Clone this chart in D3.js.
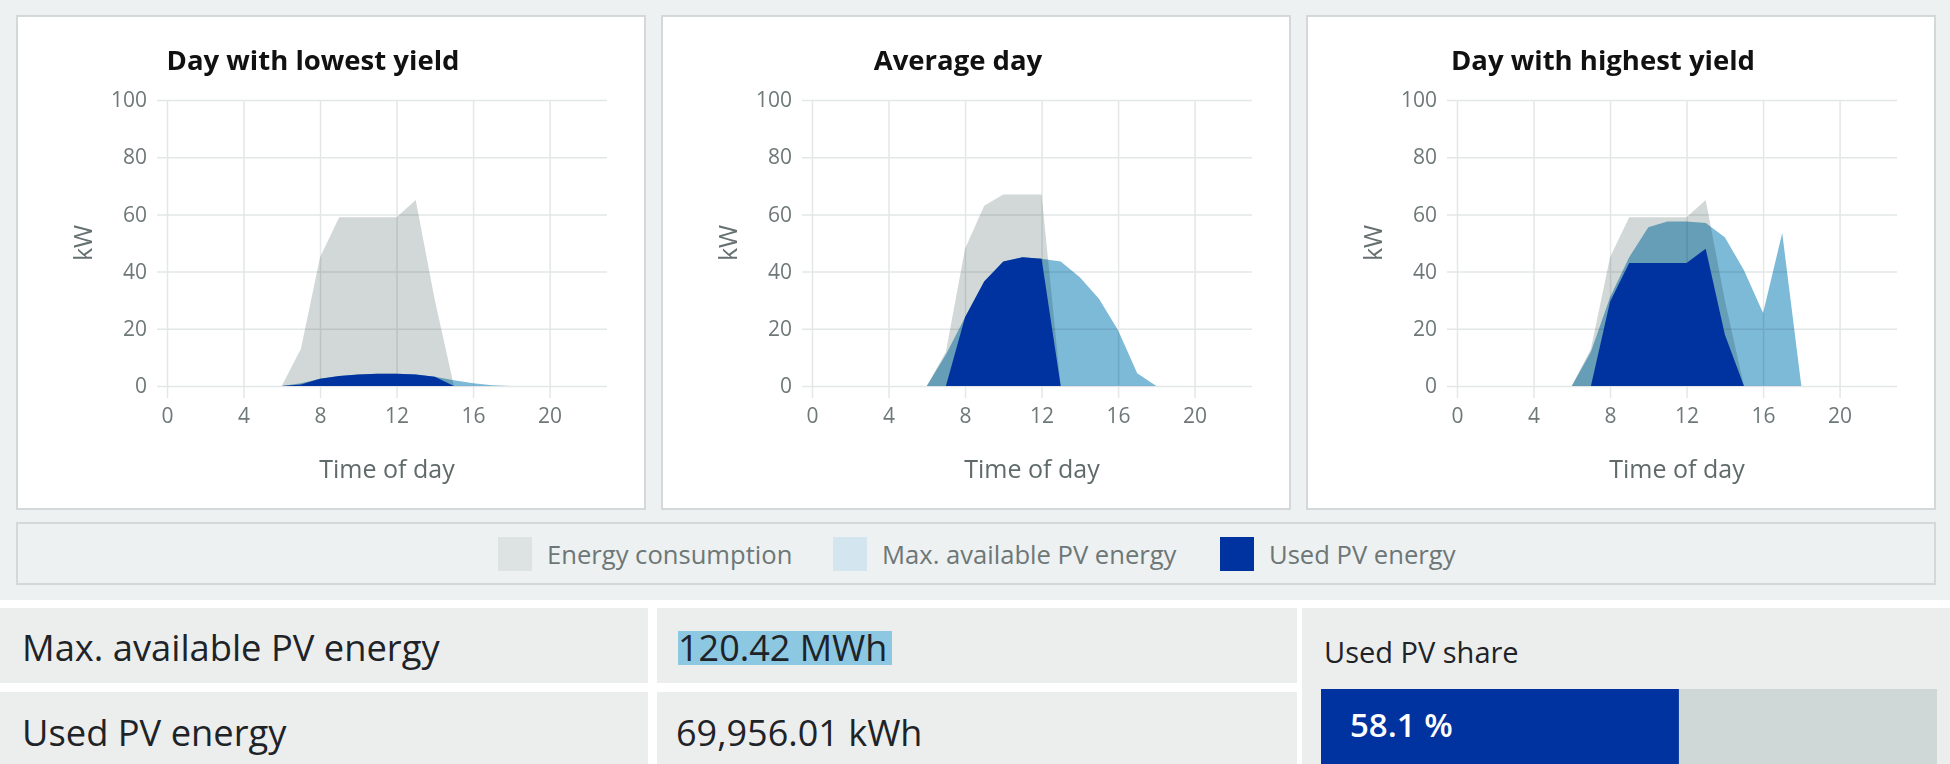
<!DOCTYPE html>
<html><head><meta charset="utf-8">
<script src="https://cdn.jsdelivr.net/npm/d3@7/dist/d3.min.js"></script>
<style>
html,body{margin:0;padding:0;background:#eef1f1;}
svg{display:block;font-family:"Open Sans",sans-serif;}
</style></head><body>
<svg id="chart" width="1950" height="764"></svg>
<script>
// ---------- data ----------
const hours = [0,1,2,3,4,5,6,7,8,9,10,11,12,13,14,15,16,17,18,19,20,21,22,23];
const panelTitles = ["Day with lowest yield", "Average day", "Day with highest yield"];
const xTicks = [0,4,8,12,16,20];
const yTicks = [0,20,40,60,80,100];

const lowConsumption  = [0,0,0,0,0,0,0,13,45,59,59,59,59,65,30,0,0,0,0,0,0,0,0,0];
const lowPV           = [0,0,0,0,0,0,0,1,2.5,3.5,4,4.3,4.3,4,3.2,2,1,0.3,0,0,0,0,0,0];
const lowUsed         = [0,0,0,0,0,0,0,0.5,2.5,3.5,4,4.3,4.3,4,3.2,0,0,0,0,0,0,0,0,0];

const avgConsumption  = [0,0,0,0,0,0,0,12,48,63,67,67,67,0,0,0,0,0,0,0,0,0,0,0];
const avgPV           = [0,0,0,0,0,0,0,11,24,36.5,43.5,45,44.5,43.5,38,30.5,19.5,4.5,0,0,0,0,0,0];
const avgUsed         = [0,0,0,0,0,0,0,0,24,36.5,43.5,45,44.5,0,0,0,0,0,0,0,0,0,0,0];

const highConsumption = [0,0,0,0,0,0,0,13,45,59,59,59,59,65,30,0,0,0,0,0,0,0,0,0];
const highPV          = [0,0,0,0,0,0,0,12,31,45,55.5,57.5,57.5,57,52,40.5,25.5,53.5,0,0,0,0,0,0];
const highUsed        = [0,0,0,0,0,0,0,0,29.5,43,43,43,43,48,18,0,0,0,0,0,0,0,0,0];

const legendLabels = ["Energy consumption", "Max. available PV energy", "Used PV energy"];
const summaryLabels = ["Max. available PV energy", "Used PV energy"];
const summaryValues = ["120.42 MWh", "69,956.01 kWh"];
const shareLabel = "Used PV share";
const usedShare = 58.1;

// ---------- styles ----------
const colConsumption = "#d2d8d8";
const colPV = "#7cbad8";
const colUsed = "#0033a0";
const legendColors = ["#dde2e2", "#d3e6ef", "#0033a0"];

const svg = d3.select("#chart");
svg.append("rect").attr("width",1950).attr("height",764).attr("fill","#eef1f1");

const panels = [
  {left:17,  title:panelTitles[0], cons:lowConsumption,  pv:lowPV,  used:lowUsed},
  {left:662, title:panelTitles[1], cons:avgConsumption,  pv:avgPV,  used:avgUsed},
  {left:1307,title:panelTitles[2], cons:highConsumption, pv:highPV, used:highUsed}
];

panels.forEach(p => {
  const px = p.left;
  const g = svg.append("g").style("isolation","isolate");
  g.append("rect").attr("x",px).attr("y",16).attr("width",628).attr("height",493)
    .attr("fill","#fff").attr("stroke","#d3d8d8").attr("stroke-width",2);

  const x = d3.scaleLinear().domain([0,23]).range([px+150, px+590]);
  const y = d3.scaleLinear().domain([0,100]).range([386,100]);

  // y axis / horizontal grid
  const ya = g.append("g").attr("transform",`translate(${px+590},0)`)
    .call(d3.axisLeft(y).tickValues(yTicks).tickSize(450).tickPadding(10));
  ya.select(".domain").remove();
  ya.selectAll("line").attr("stroke","#e3e7e7").attr("stroke-width",1.5);
  ya.selectAll("text").attr("font-size",21).attr("fill","#6e7878").attr("font-family","Open Sans");

  // x axis / vertical grid
  const xa = g.append("g").attr("transform",`translate(0,${y(100)})`)
    .call(d3.axisBottom(x).tickValues(xTicks).tickSize(298).tickPadding(10));
  xa.select(".domain").remove();
  xa.selectAll("line").attr("stroke","#e3e7e7").attr("stroke-width",1.5);
  xa.selectAll("text").attr("font-size",21).attr("fill","#6e7878").attr("font-family","Open Sans");

  const area = d3.area().x((d,i)=>x(hours[i])).y0(y(0)).y1(d=>y(d));
  g.append("path").attr("d",area(p.cons)).attr("fill",colConsumption).style("mix-blend-mode","multiply");
  g.append("path").attr("d",area(p.pv)).attr("fill",colPV).style("mix-blend-mode","multiply");
  g.append("path").attr("d",area(p.used)).attr("fill",colUsed);

  g.append("text").attr("x",px+296).attr("y",70).attr("text-anchor","middle")
    .attr("font-size",27.5).attr("font-weight",700).attr("fill","#111").text(p.title);
  g.append("text").attr("transform",`translate(${px+65},243) rotate(-90)`)
    .attr("text-anchor","middle").attr("dominant-baseline","central")
    .attr("font-size",25).attr("fill","#667070").text("kW");
  g.append("text").attr("x",px+370).attr("y",478).attr("text-anchor","middle")
    .attr("font-size",25).attr("fill","#606a6a").text("Time of day");
});

// ---------- legend ----------
svg.append("rect").attr("x",17).attr("y",523).attr("width",1918).attr("height",61)
  .attr("fill","#eef1f1").attr("stroke","#d3d8d8").attr("stroke-width",2);
const swatchX = [498, 833, 1220];
const lg = svg.append("g");
lg.selectAll("rect.sw").data(legendLabels).join("rect").attr("class","sw")
  .attr("x",(d,i)=>swatchX[i]).attr("y",537).attr("width",34).attr("height",34)
  .attr("fill",(d,i)=>legendColors[i]);
lg.selectAll("text").data(legendLabels).join("text")
  .attr("x",(d,i)=>swatchX[i]+49).attr("y",564)
  .attr("font-size",25.6).attr("fill","#6d7777").text(d=>d);

// ---------- summary table ----------
svg.append("rect").attr("x",0).attr("y",600).attr("width",1950).attr("height",164).attr("fill","#ffffff");
const cellFill = "#eceeee";
const rowY = [608, 692], rowH = [75, 72];
rowY.forEach((ry,i)=>{
  svg.append("rect").attr("x",0).attr("y",ry).attr("width",648).attr("height",rowH[i]).attr("fill",cellFill);
  svg.append("rect").attr("x",657).attr("y",ry).attr("width",640).attr("height",rowH[i]).attr("fill",cellFill);
});
svg.append("rect").attr("x",1302).attr("y",608).attr("width",648).attr("height",156).attr("fill",cellFill);

svg.append("rect").attr("x",678).attr("y",631).attr("width",214).attr("height",34).attr("fill","#8cc8e2");

const baselines = [661, 746];
svg.selectAll("text.lab").data(summaryLabels).join("text").attr("class","lab")
  .attr("x",22).attr("y",(d,i)=>baselines[i]).attr("font-size",36.3).attr("fill","#1e2328").text(d=>d);
svg.selectAll("text.val").data(summaryValues).join("text").attr("class","val")
  .attr("x",(d,i)=>i===0?678:676).attr("y",(d,i)=>baselines[i]).attr("font-size",36).attr("fill","#1e2328").text(d=>d);

svg.append("text").attr("x",1324).attr("y",663).attr("font-size",29).attr("fill","#1e2328").text(shareLabel);
const sx = d3.scaleLinear().domain([0,100]).range([1321,1937]);
svg.append("rect").attr("x",sx(0)).attr("y",689).attr("width",sx(100)-sx(0)).attr("height",75).attr("fill","#cfd8d6");
svg.append("rect").attr("x",sx(0)).attr("y",689).attr("width",sx(usedShare)-sx(0)).attr("height",75).attr("fill","#0033a0");
svg.append("text").attr("x",1350).attr("y",737).attr("font-size",33).attr("font-weight",600)
  .attr("fill","#ffffff").text(d3.format(".1f")(usedShare)+" %");
</script>
</body></html>
